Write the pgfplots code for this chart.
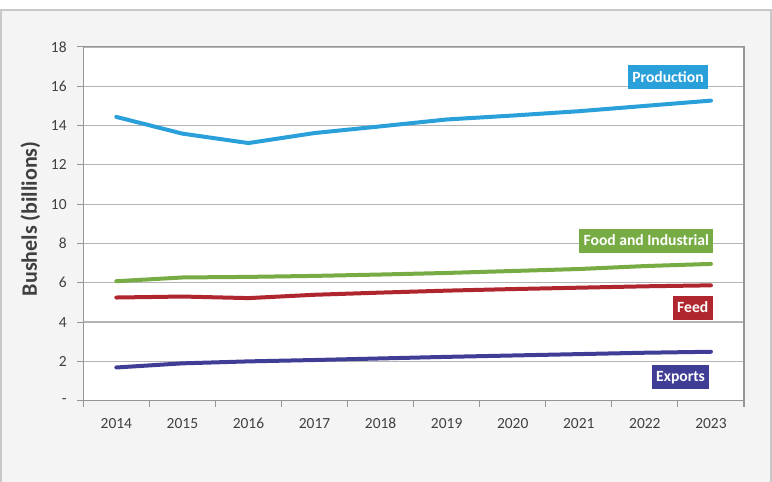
\documentclass[border=0pt]{standalone}
\usepackage{fontspec}
\setmainfont{Carlito}
\usepackage{pgfplots}
\pgfplotsset{compat=1.18}

\definecolor{prodblue}{RGB}{41,160,218}
\definecolor{foodgreen}{RGB}{119,171,67}
\definecolor{feedred}{RGB}{176,38,47}
\definecolor{exportblue}{RGB}{64,61,150}
\definecolor{panelgrey}{RGB}{244,244,244}
\definecolor{framegrey}{RGB}{200,200,200}
\definecolor{axisgrey}{RGB}{150,150,150}
\definecolor{gridgrey}{RGB}{180,180,180}
\definecolor{textgrey}{RGB}{64,64,64}

\begin{document}
\begin{tikzpicture}
\useasboundingbox (0pt,0pt) rectangle (579pt,361.5pt);
\fill[white] (0pt,0pt) rectangle (579pt,361.5pt);
\filldraw[fill=panelgrey, draw=framegrey, line width=1pt] (0.75pt,-4pt) rectangle (578.25pt,354pt);

\begin{axis}[
  at={(62.48pt,60.98pt)}, anchor=south west,
  scale only axis, width=495.5pt, height=265.3pt,
  axis background/.style={fill=white},
  axis line style={draw=axisgrey, line width=0.8pt},
  xmin=-0.5, xmax=9.5, ymin=0, ymax=18,
  xtick={0,...,9},
  xticklabels={2014,2015,2016,2017,2018,2019,2020,2021,2022,2023},
  minor xtick={-0.5,0.5,...,9.5},
  every major x tick/.append style={draw=none},
  ytick={0,2,...,18},
  yticklabels={-,2,4,6,8,10,12,14,16,18},
  tick pos=left, tick align=outside,
  major tick length=4.5pt, minor tick length=4.5pt,
  tick style={draw=axisgrey, line width=0.8pt},
  ymajorgrids, grid style={draw=gridgrey, line width=0.9pt},
  tick label style={font=\fontsize{11.6}{13}\selectfont, text=textgrey},
  x tick label style={yshift=-4pt, text height=8.5pt, text depth=0pt},
  y tick label style={xshift=-4.5pt},
  ylabel={Bushels (billions)},
  ylabel style={font=\bfseries\fontsize{16.5}{18}\selectfont, text=textgrey,
    at={(axis description cs:-0.08,0.514)}, anchor=center},
  clip=false,
  every axis plot/.append style={line width=3pt, line cap=round, line join=round},
]
% Production
\addplot[prodblue] coordinates {
  (0,14.44) (1,13.59) (2,13.11) (3,13.62) (4,13.96)
  (5,14.31) (6,14.51) (7,14.73) (8,15.00) (9,15.27)};
% Food and Industrial
\addplot[foodgreen] coordinates {
  (0,6.08) (1,6.27) (2,6.30) (3,6.35) (4,6.42)
  (5,6.50) (6,6.60) (7,6.70) (8,6.85) (9,6.96)};
% Feed
\addplot[feedred] coordinates {
  (0,5.25) (1,5.30) (2,5.22) (3,5.39) (4,5.50)
  (5,5.60) (6,5.68) (7,5.75) (8,5.82) (9,5.87)};
% Exports
\addplot[exportblue] coordinates {
  (0,1.69) (1,1.90) (2,2.00) (3,2.07) (4,2.15)
  (5,2.23) (6,2.30) (7,2.37) (8,2.44) (9,2.49)};

\tikzset{serieslabel/.style={text=white, anchor=east,
  font=\bfseries\fontsize{11.7}{13}\selectfont,
  minimum height=18pt, inner xsep=3.3pt, inner ysep=0pt}}
\node[serieslabel, fill=prodblue]   at (axis cs:8.96,16.47) {Production};
\node[serieslabel, fill=foodgreen]  at (axis cs:9.04,8.15)  {Food and Industrial};
\node[serieslabel, fill=feedred]    at (axis cs:9.03,4.74)  {Feed};
\node[serieslabel, fill=exportblue] at (axis cs:8.98,1.19)  {Exports};
\end{axis}
\end{tikzpicture}
\end{document}
